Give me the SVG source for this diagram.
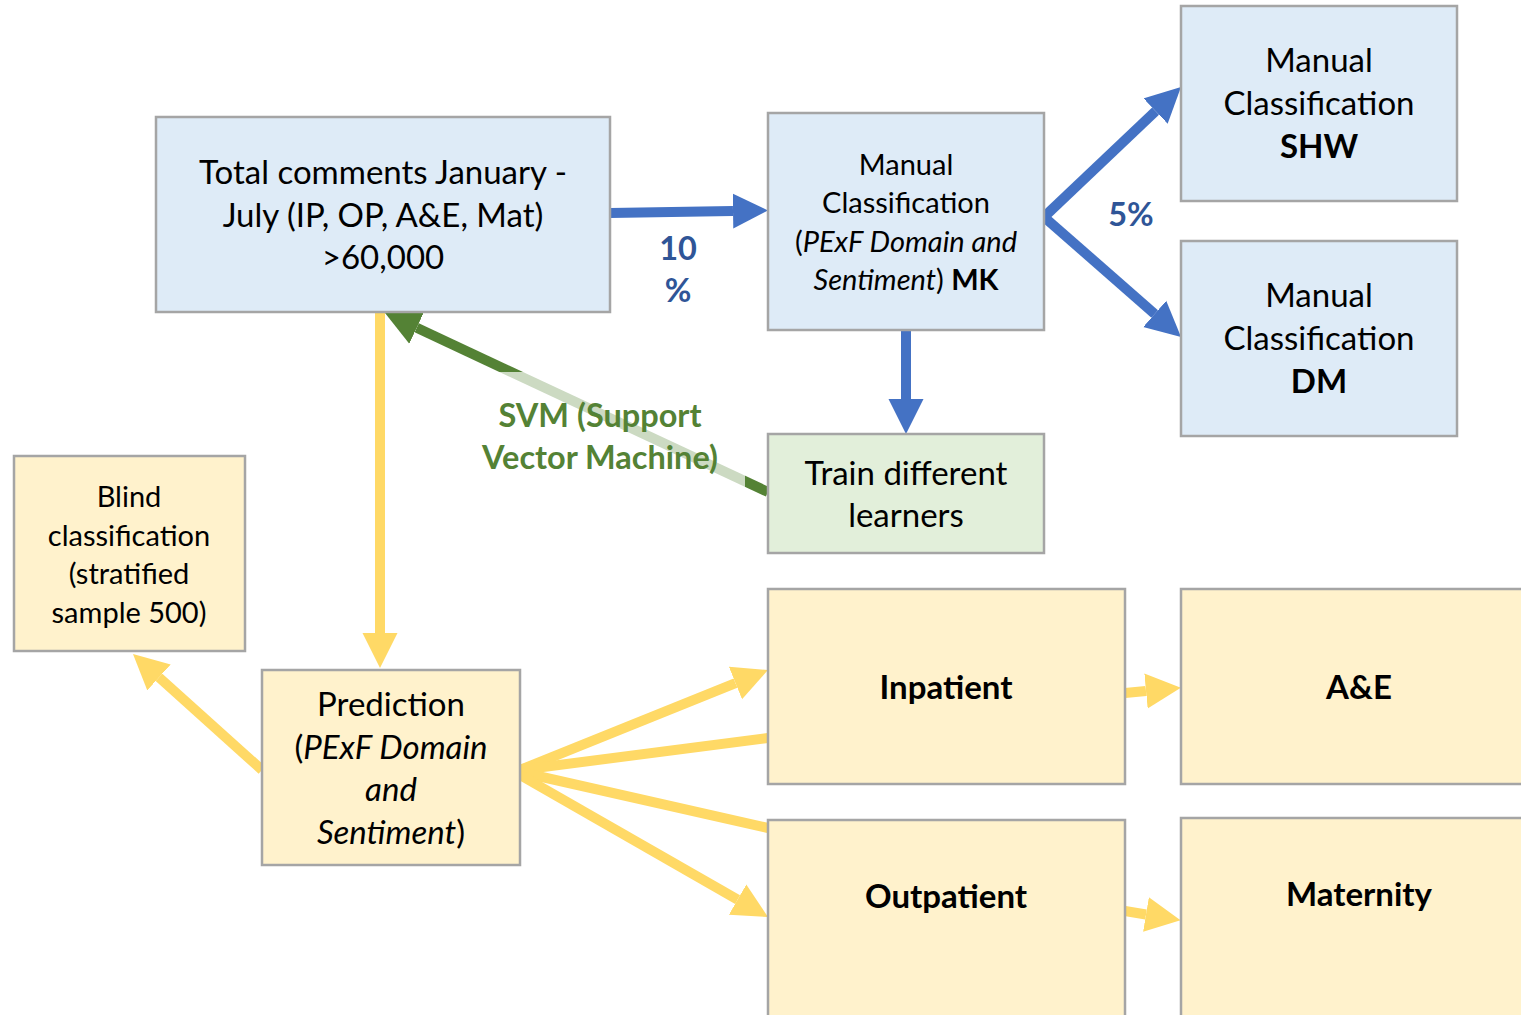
<svg xmlns="http://www.w3.org/2000/svg" width="1521" height="1015" viewBox="0 0 1521 1015">
<style>
.box{stroke:#a5a5a5;stroke-width:2.5}
.blue{fill:#deebf7}.green{fill:#e2efda}.yel{fill:#fff2cc}
text{font-family:Lato,"Open Sans","Liberation Sans",sans-serif;fill:#000;text-anchor:middle}
.t31{font-size:33px}.t27{font-size:29px}
.b{font-weight:bold}
.lbl{font-weight:bold;font-size:32.5px}
.cb{stroke:#4472c4;stroke-width:10;fill:none}
.cy{stroke:#ffd966;stroke-width:10;fill:none}
.cg{stroke:#548235;stroke-width:10;fill:none}
</style>
<defs>
<marker id="ab" viewBox="0 0 10 10" refX="0" refY="5" markerWidth="35" markerHeight="36" markerUnits="userSpaceOnUse" orient="auto"><path d="M0,0L10,5L0,10z" fill="#4472c4"/></marker>
<marker id="ay" viewBox="0 0 10 10" refX="0" refY="5" markerWidth="35" markerHeight="36" markerUnits="userSpaceOnUse" orient="auto"><path d="M0,0L10,5L0,10z" fill="#ffd966"/></marker>
<marker id="ag" viewBox="0 0 10 10" refX="0" refY="5" markerWidth="35" markerHeight="40" markerUnits="userSpaceOnUse" orient="auto"><path d="M0,0L10,5L0,10z" fill="#548235"/></marker>
</defs>
<g id="connectors">
<line class="cb" x1="610" y1="213" x2="733" y2="211" marker-end="url(#ab)"/>
<line class="cb" x1="1044" y1="217" x2="1155.6" y2="111.1" marker-end="url(#ab)"/>
<line class="cb" x1="1044" y1="217" x2="1154.7" y2="313.9" marker-end="url(#ab)"/>
<line class="cb" x1="906" y1="327" x2="906" y2="399" marker-end="url(#ab)"/>
<line class="cg" x1="768" y1="492" x2="416.7" y2="327.8" marker-end="url(#ag)"/>
<rect x="470" y="372" width="275" height="130" fill="#fff" fill-opacity="0.7"/>
<line class="cy" x1="380" y1="313" x2="380" y2="633" marker-end="url(#ay)"/>
<line class="cy" x1="262" y1="770" x2="159" y2="677.4" marker-end="url(#ay)"/>
<line class="cy" x1="520" y1="770" x2="735.5" y2="683.1" marker-end="url(#ay)"/>
<line class="cy" x1="520" y1="770" x2="768" y2="738"/>
<line class="cy" x1="520" y1="772" x2="768" y2="828"/>
<line class="cy" x1="520" y1="775" x2="737.6" y2="899.6" marker-end="url(#ay)"/>
<line class="cy" x1="1125" y1="693" x2="1146" y2="691" marker-end="url(#ay)"/>
<line class="cy" x1="1125" y1="911" x2="1146" y2="914.5" marker-end="url(#ay)"/>
<text class="lbl" x="678" y="260" style="fill:#2f5597">10</text>
<text class="lbl" x="678" y="302" style="fill:#2f5597">%</text>
<text class="lbl" x="1131" y="226" style="fill:#2f5597">5%</text>
<text class="lbl" x="600" y="427" style="fill:#548235">SVM (Support</text>
<text class="lbl" x="600" y="469" style="fill:#548235">Vector Machine)</text>
</g>
<g id="total">
<rect class="box blue" x="156" y="117" width="454" height="195"/>
<text class="t31" x="383" y="184">Total comments January -</text>
<text class="t31" x="383" y="227">July (IP, OP, A&amp;E, Mat)</text>
<text class="t31" x="383" y="269">&gt;60,000</text>
</g>
<g id="manual-mk">
<rect class="box blue" x="768" y="113" width="276" height="217"/>
<text class="t27" x="906" y="175">Manual</text>
<text class="t27" x="906" y="213">Classification</text>
<text class="t27" x="906" y="252">(<tspan font-style="italic">PExF Domain and</tspan></text>
<text class="t27" x="906" y="290"><tspan font-style="italic">Sentiment</tspan>) <tspan font-weight="bold">MK</tspan></text>
</g>
<g id="manual-shw">
<rect class="box blue" x="1181" y="6" width="276" height="195"/>
<text class="t31" x="1319" y="72">Manual</text>
<text class="t31" x="1319" y="115">Classification</text>
<text class="t31 b" x="1319" y="158">SHW</text>
</g>
<g id="manual-dm">
<rect class="box blue" x="1181" y="241" width="276" height="195"/>
<text class="t31" x="1319" y="307">Manual</text>
<text class="t31" x="1319" y="350">Classification</text>
<text class="t31 b" x="1319" y="393">DM</text>
</g>
<g id="train">
<rect class="box green" x="768" y="434" width="276" height="119"/>
<text class="t31" x="906" y="485">Train different</text>
<text class="t31" x="906" y="527">learners</text>
</g>
<g id="blind">
<rect class="box yel" x="14" y="456" width="231" height="195"/>
<text class="t27" x="129" y="507">Blind</text>
<text class="t27" x="129" y="546">classification</text>
<text class="t27" x="129" y="584">(stratified</text>
<text class="t27" x="129" y="623">sample 500)</text>
</g>
<g id="prediction">
<rect class="box yel" x="262" y="670" width="258" height="195"/>
<text class="t31" x="391" y="716">Prediction</text>
<text class="t31" x="391" y="759">(<tspan font-style="italic">PExF Domain</tspan></text>
<text class="t31" x="391" y="801" font-style="italic">and</text>
<text class="t31" x="391" y="844"><tspan font-style="italic">Sentiment</tspan>)</text>
</g>
<g id="inpatient">
<rect class="box yel" x="768" y="589" width="357" height="195"/>
<text class="t31 b" x="946" y="699">Inpatient</text>
</g>
<g id="ae">
<rect class="box yel" x="1181" y="589" width="345" height="195"/>
<text class="t31 b" x="1359" y="699">A&amp;E</text>
</g>
<g id="outpatient">
<rect class="box yel" x="768" y="820" width="357" height="200"/>
<text class="t31 b" x="946" y="908">Outpatient</text>
</g>
<g id="maternity">
<rect class="box yel" x="1181" y="818" width="345" height="200"/>
<text class="t31 b" x="1359" y="906">Maternity</text>
</g>
</svg>
